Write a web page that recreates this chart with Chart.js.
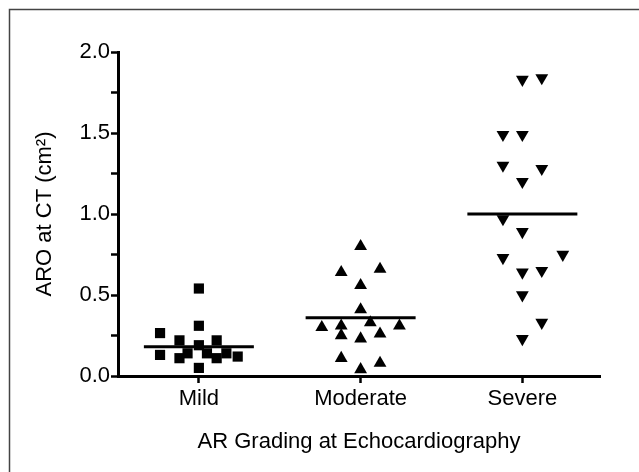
<!DOCTYPE html>
<html>
<head>
<meta charset="utf-8">
<script src="https://cdn.jsdelivr.net/npm/chart.js@4.4.1/dist/chart.umd.min.js"></script>
<style>
  html, body { margin: 0; padding: 0; background: #fff; }
  #wrap { width: 639px; height: 472px; }
</style>
</head>
<body>
<div id="wrap"><canvas id="chart" width="639" height="472"></canvas></div>
<script>
// categories and values
const categories = ['Mild', 'Moderate', 'Severe'];

const mildValues  = [0.54, 0.31, 0.265, 0.22, 0.22, 0.19, 0.13, 0.14, 0.14, 0.14, 0.11, 0.11, 0.12, 0.05];
const mildOffsets = [0, 0, -0.24, -0.12, 0.11, 0, -0.24, -0.07, 0.05, 0.17, -0.12, 0.11, 0.24, 0];

const moderateValues  = [0.80, 0.64, 0.66, 0.56, 0.41, 0.30, 0.31, 0.33, 0.31, 0.25, 0.26, 0.23, 0.11, 0.08, 0.04];
const moderateOffsets = [0, -0.12, 0.12, 0, 0, -0.24, -0.12, 0.06, 0.24, -0.12, 0.12, 0, -0.12, 0.12, 0];

const severeValues  = [1.83, 1.84, 1.49, 1.49, 1.30, 1.28, 1.20, 0.97, 0.89, 0.73, 0.75, 0.64, 0.65, 0.50, 0.33, 0.23];
const severeOffsets = [0, 0.12, -0.12, 0, -0.12, 0.12, 0, -0.12, 0, -0.12, 0.25, 0, 0.12, 0, 0.12, 0];

const medians = [0.18, 0.36, 1.00];
const medianHalfWidth = 0.34;

const FONT = 'Liberation Sans, Arial, Helvetica, sans-serif';

function toPoints(pos, values, offsets) {
    return values.map((v, i) => ({ x: pos + offsets[i], y: v }));
}

const medianSets = medians.map((m, i) => ({
    type: 'line',
    data: [{ x: i + 1 - medianHalfWidth, y: m }, { x: i + 1 + medianHalfWidth, y: m }],
    borderColor: '#000',
    borderWidth: 3,
    pointRadius: 0,
    fill: false,
    clip: false
}));

// thin frame round the figure (left and top edges only show)
const framePlugin = {
    id: 'frame',
    beforeDraw(chart) {
        const c = chart.ctx;
        c.save();
        c.fillStyle = '#fff';
        c.fillRect(0, 0, chart.width, chart.height);
        c.strokeStyle = '#444';
        c.lineWidth = 1.5;
        c.beginPath();
        c.moveTo(9.5, chart.height);
        c.lineTo(9.5, 9.5);
        c.lineTo(chart.width, 9.5);
        c.stroke();
        c.restore();
    }
};

new Chart(document.getElementById('chart'), {
    type: 'scatter',
    data: {
        datasets: [
            {
                data: toPoints(1, mildValues, mildOffsets),
                pointStyle: 'rect',
                pointRadius: 7.2,
                backgroundColor: '#000',
                borderColor: '#000',
                borderWidth: 0,
                clip: false
            },
            {
                data: toPoints(2, moderateValues, moderateOffsets),
                pointStyle: 'triangle',
                pointRadius: 7.4,
                backgroundColor: '#000',
                borderColor: '#000',
                borderWidth: 0,
                clip: false
            },
            {
                data: toPoints(3, severeValues, severeOffsets),
                pointStyle: 'triangle',
                rotation: 180,
                pointRadius: 7.4,
                backgroundColor: '#000',
                borderColor: '#000',
                borderWidth: 0,
                clip: false
            },
            ...medianSets
        ]
    },
    options: {
        responsive: false,
        animation: false,
        layout: { padding: { top: 52, right: 39, left: 0, bottom: 0 } },
        plugins: {
            legend: { display: false },
            tooltip: { enabled: false }
        },
        scales: {
            x: {
                type: 'linear',
                min: 0.5,
                max: 3.48,
                afterBuildTicks: axis => {
                    axis.ticks = categories.map((c, i) => ({ value: i + 1 }));
                },
                afterFit: axis => { axis.height = 96; },
                border: { display: true, color: '#000', width: 3 },
                grid: {
                    display: true,
                    drawOnChartArea: false,
                    drawTicks: true,
                    tickLength: 7,
                    tickWidth: 2.5,
                    tickColor: '#000'
                },
                ticks: {
                    color: '#000',
                    font: { family: FONT, size: 22 },
                    padding: 3,
                    maxRotation: 0,
                    autoSkip: false,
                    callback: v => categories[Math.round(v) - 1]
                },
                title: {
                    display: true,
                    text: 'AR Grading at Echocardiography',
                    color: '#000',
                    font: { family: FONT, size: 22 },
                    padding: { top: 0, bottom: 17 }
                }
            },
            y: {
                min: 0,
                max: 2,
                afterFit: axis => { axis.width = 118; },
                border: { display: true, color: '#000', width: 3 },
                grid: {
                    display: true,
                    drawOnChartArea: false,
                    drawTicks: true,
                    tickLength: 7,
                    tickWidth: 2.5,
                    tickColor: '#000'
                },
                ticks: {
                    stepSize: 0.25,
                    autoSkip: false,
                    color: '#000',
                    font: { family: FONT, size: 22 },
                    padding: 1,
                    callback: v => (v % 0.5 === 0 ? v.toFixed(1) : '')
                },
                title: {
                    display: true,
                    text: 'ARO at CT (cm²)',
                    color: '#000',
                    font: { family: FONT, size: 22 },
                    padding: { top: 32, bottom: 0 }
                }
            }
        }
    },
    plugins: [framePlugin]
});
</script>
</body>
</html>
